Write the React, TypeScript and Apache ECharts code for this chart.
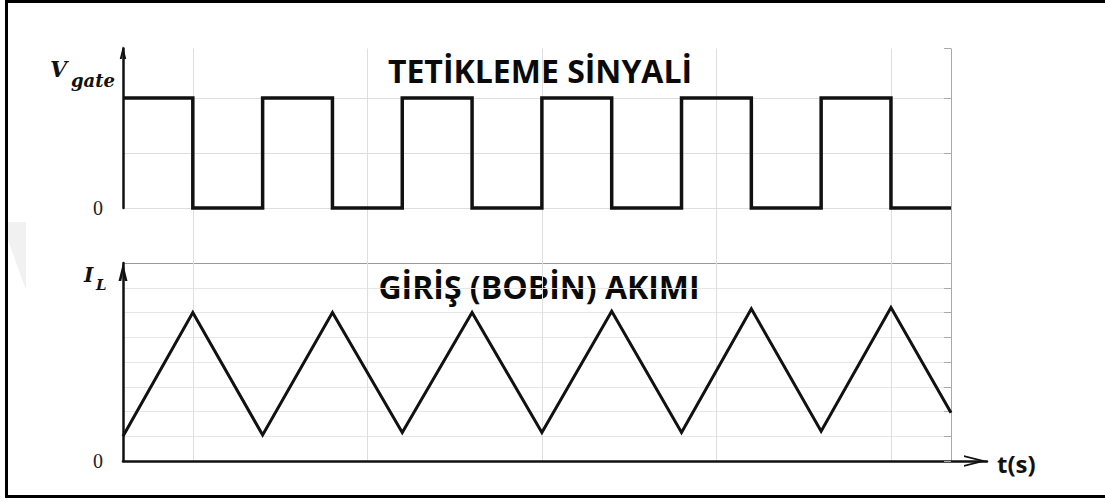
import React, { useEffect, useRef } from 'react';
import * as echarts from 'echarts';

// ---- data ----
const gateTimes = [0, 1, 2, 3, 4, 5, 6, 7, 8, 9, 10, 11, 11.86];
const gateValues = [1, 0, 1, 0, 1, 0, 1, 0, 1, 0, 1, 0, 0];
const currentTimes = [0, 1, 2, 3, 4, 5, 6, 7, 8, 9, 10, 11, 11.86];
const currentValues = [1.0, 6.0, 1.05, 6.0, 1.15, 6.0, 1.15, 6.05, 1.15, 6.15, 1.2, 6.2, 1.95];
const gateTitle = 'TETİKLEME SİNYALİ';
const currentTitle = 'GİRİŞ (BOBİN) AKIMI';
const timeLabel = 't(s)';
const zeroLabel = '0';

const CHEVRON_V = 'path://M0,20L5,0L10,20L6.9,20L5,11.2L3.1,20Z';
const CHEVRON_H = 'path://M0,20L5,0L10,20L8.4,20L5,6.4L1.6,20Z';
const G = '#dedede';
const GH = '#e6e6e6';
const T = 'rgba(0,0,0,0)';

export default function App() {
  const ref = useRef<HTMLDivElement>(null);
  useEffect(() => {
    if (!ref.current) return;
    const chart = echarts.init(ref.current, null, { renderer: 'svg' });
    const zeroFmt = (v: number) => (v === 0 ? zeroLabel : '');
    const labelStyle = { formatter: zeroFmt, margin: 20, fontFamily: 'Liberation Serif', fontSize: 20, color: '#222' };
    chart.setOption({
      animation: false,
      backgroundColor: '#fff',
      grid: [
        { left: 123, width: 828, top: 48.5, height: 159.5 },
        { left: 123, width: 828, top: 263, height: 198 },
        { left: 18.3, width: 932.7, top: 48.5, height: 412.5 },
        { left: 123, width: 864, top: 455, height: 6 },
      ],
      xAxis: [
        { gridIndex: 0, type: 'value', min: 0, max: 11.86, show: false },
        { gridIndex: 1, type: 'value', min: 0, max: 11.86, show: false },
        {
          gridIndex: 2, type: 'value', min: 0, max: 13.36, interval: 2.5,
          axisLine: { show: false }, axisTick: { show: false }, axisLabel: { show: false },
          splitLine: { show: true, lineStyle: { width: 1, color: [T, G, G, G, G, G, '#a8a8a8'] } },
        },
        {
          gridIndex: 3, type: 'value', min: 0, max: 1,
          axisLine: {
            show: true, onZero: false, lineStyle: { color: '#111', width: 2.5 },
            symbol: ['none', CHEVRON_H], symbolSize: [13, 23], symbolOffset: [0, -11.5],
          },
          axisTick: { show: false }, axisLabel: { show: false }, splitLine: { show: false },
        },
      ],
      yAxis: [
        {
          gridIndex: 0, type: 'value', position: 'left', min: 0, max: 1.45, interval: 0.5,
          axisLine: {
            show: true, lineStyle: { color: '#111', width: 2.5 },
            symbol: ['none', CHEVRON_V], symbolSize: [10, 13], symbolOffset: [0, -4],
          },
          axisTick: { show: false }, splitLine: { show: false }, axisLabel: labelStyle,
        },
        {
          gridIndex: 0, type: 'value', position: 'right', min: 0, max: 1.45, interval: 0.5,
          axisLine: { show: false },
          axisTick: { show: true, inside: true, length: 7, lineStyle: { color: '#aaa' } },
          axisLabel: { show: false },
          splitLine: { show: true, lineStyle: { width: 1, color: [G, G, G, T] } },
        },
        {
          gridIndex: 1, type: 'value', position: 'left', min: 0, max: 8, interval: 1,
          axisLine: {
            show: true, lineStyle: { color: '#111', width: 2.5 },
            symbol: ['none', CHEVRON_V], symbolSize: [11, 18], symbolOffset: [0, -9],
          },
          axisTick: { show: false }, splitLine: { show: false }, axisLabel: labelStyle,
        },
        {
          gridIndex: 1, type: 'value', position: 'right', min: 0, max: 8, interval: 1,
          axisLine: { show: false },
          axisTick: { show: true, inside: true, length: 7, lineStyle: { color: '#aaa' } },
          axisLabel: { show: false },
          splitLine: { show: true, lineStyle: { width: 1, color: [T, GH, GH, GH, GH, GH, GH, GH, '#9a9a9a'] } },
        },
        { gridIndex: 2, type: 'value', min: 0, max: 1, show: false },
        { gridIndex: 3, type: 'value', min: 0, max: 1, show: false },
      ],
      series: [
        {
          type: 'line', xAxisIndex: 0, yAxisIndex: 0, step: 'end', symbol: 'none', clip: false, z: 5,
          data: gateTimes.map((t, i) => [t, gateValues[i]]),
          lineStyle: { color: '#111', width: 3.5, join: 'miter' },
        },
        {
          type: 'line', xAxisIndex: 1, yAxisIndex: 2, symbol: 'none', clip: false, z: 5,
          data: currentTimes.map((t, i) => [t, currentValues[i]]),
          lineStyle: { color: '#111', width: 3, join: 'miter' },
        },
      ],
      graphic: [
        { type: 'polygon', shape: { points: [[8, 222], [26, 222], [26, 290], [8, 240]] }, style: { fill: '#f1f1f1' }, z: -1 },
        { type: 'line', shape: { x1: 5, y1: 1.5, x2: 1105, y2: 1.5 }, style: { stroke: '#000', lineWidth: 3 } },
        { type: 'line', shape: { x1: 6.5, y1: 0, x2: 6.5, y2: 498 }, style: { stroke: '#000', lineWidth: 3 } },
        { type: 'line', shape: { x1: 5, y1: 496.5, x2: 1105, y2: 496.5 }, style: { stroke: '#000', lineWidth: 3 } },
        {
          type: 'text', x: 540, y: 70,
          style: { text: gateTitle, fontFamily: 'Open Sans', fontWeight: 'bold', fontSize: 32, fill: '#0a0a0a', align: 'center', verticalAlign: 'middle' },
        },
        {
          type: 'text', x: 539, y: 286,
          style: { text: currentTitle, fontFamily: 'Open Sans', fontWeight: 'bold', fontSize: 32, fill: '#0a0a0a', align: 'center', verticalAlign: 'middle' },
        },
        {
          type: 'text', x: 50, y: 69,
          style: { text: 'V', fontFamily: 'DejaVu Serif', fontWeight: 'bold', fontStyle: 'italic', fontSize: 22, fill: '#111', align: 'left', verticalAlign: 'middle' },
        },
        {
          type: 'text', x: 71, y: 80,
          style: { text: 'gate', fontFamily: 'DejaVu Serif', fontWeight: 'bold', fontStyle: 'italic', fontSize: 18, fill: '#111', align: 'left', verticalAlign: 'middle' },
        },
        {
          type: 'text', x: 84, y: 275,
          style: { text: 'I', fontFamily: 'DejaVu Serif', fontWeight: 'bold', fontStyle: 'italic', fontSize: 20, fill: '#111', align: 'left', verticalAlign: 'middle' },
        },
        {
          type: 'text', x: 96, y: 285,
          style: { text: 'L', fontFamily: 'DejaVu Serif', fontWeight: 'bold', fontStyle: 'italic', fontSize: 15, fill: '#111', align: 'left', verticalAlign: 'middle' },
        },
        {
          type: 'text', x: 997, y: 463,
          style: { text: timeLabel, fontFamily: 'Open Sans', fontWeight: 'bold', fontSize: 24, fill: '#111', align: 'left', verticalAlign: 'middle' },
        },
      ],
    });
    return () => chart.dispose();
  }, []);
  return <div ref={ref} style={{ position: 'absolute', left: 0, top: 0, width: 1105, height: 502 }} />;
}
